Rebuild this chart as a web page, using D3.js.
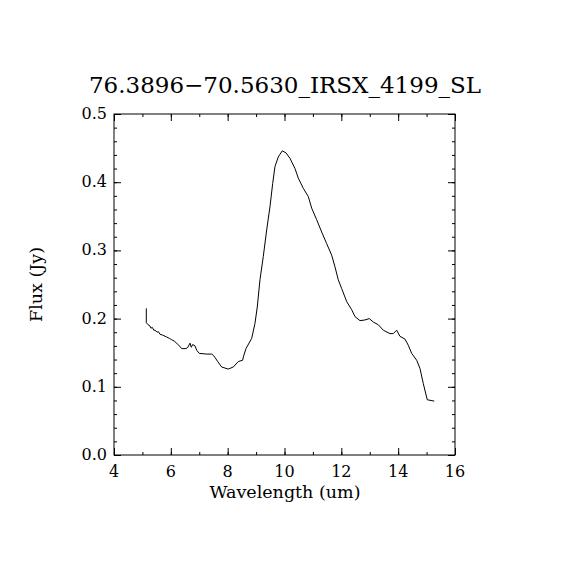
<!DOCTYPE html>
<html>
<head>
<meta charset="utf-8">
<script src="https://cdn.jsdelivr.net/npm/d3@7"></script>
<style>
  body { margin: 0; background: #fff; }
  text { font-family: "DejaVu Serif", "Liberation Serif", serif; fill: #000; }
</style>
</head>
<body>
<svg width="570" height="570"></svg>
<script>
// spectrum: wavelength (um) and flux (Jy)
const wavelength = [5.137, 5.137, 5.20, 5.267, 5.30, 5.35, 5.40, 5.443, 5.52, 5.56, 5.619, 5.70, 5.854,
  5.95, 6.030, 6.12, 6.206, 6.30, 6.382, 6.533, 6.60, 6.674, 6.72, 6.769, 6.850, 6.92, 7.001, 7.262,
  7.438, 7.50, 7.554, 7.65, 7.790, 8.022, 8.198, 8.374, 8.528, 8.56, 8.645, 8.845, 8.961, 9.042,
  9.137, 9.253, 9.373, 9.489, 9.584, 9.665, 9.781, 9.922, 10.052, 10.193, 10.369, 10.485, 10.661,
  10.837, 10.956, 11.132, 11.308, 11.484, 11.660, 11.776, 11.892, 12.012, 12.188, 12.364, 12.480,
  12.656, 12.832, 12.983, 13.124, 13.300, 13.476, 13.711, 13.828, 13.947, 14.063, 14.239, 14.355,
  14.475, 14.651, 14.767, 14.883, 15.024, 15.270];
const flux = [0.215, 0.194, 0.191, 0.189, 0.186, 0.187, 0.183, 0.183, 0.180, 0.181, 0.177, 0.176, 0.173,
  0.171, 0.169, 0.167, 0.164, 0.160, 0.156, 0.156, 0.158, 0.164, 0.158, 0.162, 0.160, 0.153, 0.149, 0.148,
  0.148, 0.146, 0.143, 0.137, 0.129, 0.126, 0.129, 0.137, 0.139, 0.145, 0.156, 0.171, 0.193, 0.217,
  0.257, 0.291, 0.330, 0.364, 0.398, 0.423, 0.437, 0.446, 0.443, 0.435, 0.420, 0.406, 0.391,
  0.379, 0.362, 0.345, 0.327, 0.310, 0.293, 0.276, 0.257, 0.244, 0.225, 0.213, 0.203,
  0.197, 0.198, 0.200, 0.195, 0.191, 0.183, 0.178, 0.178, 0.183, 0.174, 0.170, 0.161,
  0.149, 0.139, 0.127, 0.105, 0.081, 0.079];

const xTicks = [4, 6, 8, 10, 12, 14, 16];
const yTicks = [0.0, 0.1, 0.2, 0.3, 0.4, 0.5];
const title = "76.3896\u221270.5630_IRSX_4199_SL";

const svg = d3.select("svg");
const pLeft = 114, pRight = 455, pTop = 114, pBottom = 455;

const x = d3.scaleLinear().domain([4, 16]).range([pLeft, pRight]);
const y = d3.scaleLinear().domain([0, 0.5]).range([pBottom, pTop]);

const xMinor = d3.range(4, 16.001, 1);
const yMinor = d3.range(0, 0.5001, 0.02);

// axes on all four sides, ticks pointing inward like IDL
function drawAxis(axis, tr) {
  const g = svg.append("g").attr("transform", tr).call(axis);
  g.selectAll("path").remove();
  g.selectAll("line").attr("stroke", "#000").attr("stroke-width", 1);
  return g;
}

drawAxis(d3.axisBottom(x).tickValues(xMinor).tickSize(-3).tickFormat(""), `translate(0,${pBottom})`);
drawAxis(d3.axisBottom(x).tickValues(xTicks).tickSize(-7).tickFormat(""), `translate(0,${pBottom})`);
drawAxis(d3.axisTop(x).tickValues(xMinor).tickSize(-3).tickFormat(""), `translate(0,${pTop})`);
drawAxis(d3.axisTop(x).tickValues(xTicks).tickSize(-7).tickFormat(""), `translate(0,${pTop})`);
drawAxis(d3.axisLeft(y).tickValues(yMinor).tickSize(-3).tickFormat(""), `translate(${pLeft},0)`);
drawAxis(d3.axisLeft(y).tickValues(yTicks).tickSize(-7).tickFormat(""), `translate(${pLeft},0)`);
drawAxis(d3.axisRight(y).tickValues(yMinor).tickSize(-3).tickFormat(""), `translate(${pRight},0)`);
drawAxis(d3.axisRight(y).tickValues(yTicks).tickSize(-7).tickFormat(""), `translate(${pRight},0)`);

svg.append("rect")
  .attr("x", pLeft).attr("y", pTop)
  .attr("width", pRight - pLeft).attr("height", pBottom - pTop)
  .attr("fill", "none").attr("stroke", "#000").attr("stroke-width", 1);

// tick labels
svg.selectAll(".xl").data(xTicks).enter().append("text")
  .attr("x", d => x(d)).attr("y", pBottom + 22)
  .attr("text-anchor", "middle").attr("font-size", 16)
  .text(d => d);

svg.selectAll(".yl").data(yTicks).enter().append("text")
  .attr("x", pLeft - 7).attr("y", d => y(d) + 5)
  .attr("text-anchor", "end").attr("font-size", 16)
  .text(d => d.toFixed(1));

// titles
svg.append("text").attr("x", 285).attr("y", 93)
  .attr("text-anchor", "middle").attr("font-size", 23).text(title);

svg.append("text").attr("x", 285).attr("y", 498)
  .attr("text-anchor", "middle").attr("font-size", 17.5).text("Wavelength (um)");

svg.append("text")
  .attr("transform", `translate(42,${(pTop + pBottom) / 2}) rotate(-90)`)
  .attr("text-anchor", "middle").attr("font-size", 17.5).text("Flux (Jy)");

// spectrum
const pts = wavelength.map((w, i) => ({w: w, f: flux[i]}));
const line = d3.line().x(d => x(d.w)).y(d => y(d.f));
svg.append("path")
  .attr("d", line(pts))
  .attr("fill", "none").attr("stroke", "#000").attr("stroke-width", 1);
</script>
</body>
</html>
